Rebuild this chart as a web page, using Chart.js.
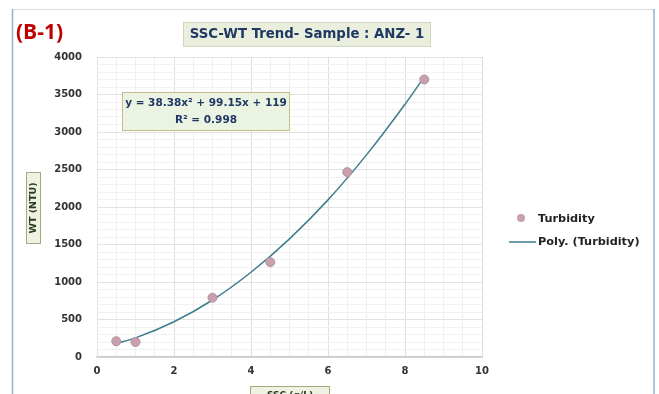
<!DOCTYPE html>
<html lang="en">
<head>
  <meta charset="UTF-8">
  <title>SSC-WT Trend</title>
  <script src="https://cdn.jsdelivr.net/npm/chart.js"></script>
</head>
<body style="margin:0; background:#fff;">
  <div style="width:659px; height:394px; position:relative;">
    <canvas id="trendChart" width="659" height="394"></canvas>
  </div>

  <script>
    // measured points (SSC vs turbidity)
    const sscValues = [0.5, 1, 3, 4.5, 6.5, 8.5];
    const turbidityValues = [210, 200, 790, 1265, 2465, 3700];

    // polynomial trend line
    const trendX = [0.5, 1, 2, 3, 4, 5, 6, 7, 8, 8.5];
    const trendY = [180, 255, 470, 760, 1130, 1575, 2095, 2695, 3370, 3735];

    const xTicks = [0, 2, 4, 6, 8, 10];
    const yTicks = [0, 500, 1000, 1500, 2000, 2500, 3000, 3500, 4000];

    const chartTitle = 'SSC-WT Trend- Sample : ANZ- 1';
    const panelLabel = '(B-1)';
    const equationLines = ['y = 38.38x\u00b2 + 99.15x + 119', 'R\u00b2 = 0.998'];
    const yTitle = 'WT (NTU)';
    const xTitle = 'SSC (g/L)';
    const legendLabels = ['Turbidity', 'Poly. (Turbidity)'];

    const navy = '#1f3864';
    const pointColor = '#c7a1b0';
    const lineColor = '#3d7d8e';
    const wide = '"DejaVu Sans", sans-serif';

    function box(ctx, x, y, w, h, fill, stroke) {
      ctx.fillStyle = fill;
      ctx.fillRect(x, y, w, h);
      ctx.strokeStyle = stroke;
      ctx.lineWidth = 1;
      ctx.strokeRect(x + 0.5, y + 0.5, w - 1, h - 1);
    }

    // frame, titles, boxes and legend
    const decorations = {
      id: 'decorations',
      beforeDraw(chart) {
        const ctx = chart.ctx;
        ctx.save();
        ctx.fillStyle = '#fff';
        ctx.fillRect(0, 0, 659, 394);
        ctx.strokeStyle = '#d6dde2';
        ctx.lineWidth = 1;
        ctx.beginPath();
        ctx.moveTo(12, 9.5); ctx.lineTo(654, 9.5);
        ctx.stroke();
        ctx.strokeStyle = '#8fb4cc';
        ctx.lineWidth = 1.5;
        ctx.beginPath();
        ctx.moveTo(12.5, 9); ctx.lineTo(12.5, 394);
        ctx.moveTo(654, 9); ctx.lineTo(654, 394);
        ctx.stroke();
        ctx.restore();
      },
      afterDraw(chart) {
        const ctx = chart.ctx;
        ctx.save();

        ctx.fillStyle = '#c00000';
        ctx.font = 'bold 21px "Open Sans", sans-serif';
        ctx.textAlign = 'left';
        ctx.textBaseline = 'middle';
        ctx.fillText(panelLabel, 16, 33);

        box(ctx, 183, 22, 248, 25, '#e9eedd', '#cfd5c0');
        ctx.fillStyle = navy;
        ctx.font = 'bold 13.3px ' + wide;
        ctx.textAlign = 'center';
        ctx.fillText(chartTitle, 307, 35);

        box(ctx, 122, 92, 168, 39, '#ebf3e2', '#c8bb8c');
        ctx.fillStyle = navy;
        ctx.font = 'bold 10.5px ' + wide;
        ctx.fillText(equationLines[0], 206, 103);
        ctx.fillText(equationLines[1], 206, 120);

        box(ctx, 26, 172, 15, 72, '#eef2e2', '#a3a97c');
        ctx.save();
        ctx.translate(34, 208);
        ctx.rotate(-Math.PI / 2);
        ctx.fillStyle = '#2a3a20';
        ctx.font = 'bold 9.5px ' + wide;
        ctx.fillText(yTitle, 0, 0);
        ctx.restore();

        box(ctx, 250, 386, 80, 16, '#eef2e2', '#a3a97c');
        ctx.fillStyle = '#2a3a20';
        ctx.font = 'bold 9px ' + wide;
        ctx.fillText(xTitle, 290, 396);

        // legend
        ctx.fillStyle = pointColor;
        ctx.beginPath();
        ctx.arc(521, 218, 4, 0, Math.PI * 2);
        ctx.fill();
        ctx.strokeStyle = lineColor;
        ctx.lineWidth = 1.5;
        ctx.beginPath();
        ctx.moveTo(509, 242); ctx.lineTo(536, 242);
        ctx.stroke();
        ctx.fillStyle = '#222';
        ctx.font = 'bold 11.3px ' + wide;
        ctx.textAlign = 'left';
        ctx.fillText(legendLabels[0], 538, 219);
        ctx.fillText(legendLabels[1], 538, 242);

        ctx.restore();
      }
    };

    const ctx = document.getElementById('trendChart').getContext('2d');
    new Chart(ctx, {
      type: 'scatter',
      data: {
        datasets: [
          {
            label: legendLabels[1],
            type: 'line',
            data: trendX.map((x, i) => ({ x: x, y: trendY[i] })),
            borderColor: lineColor,
            borderWidth: 1.5,
            pointRadius: 0,
            fill: false,
            cubicInterpolationMode: 'monotone',
            order: 2
          },
          {
            label: legendLabels[0],
            data: sscValues.map((x, i) => ({ x: x, y: turbidityValues[i] })),
            backgroundColor: pointColor,
            borderColor: '#b890a0',
            borderWidth: 1,
            pointRadius: 4.5,
            order: 1
          }
        ]
      },
      options: {
        responsive: false,
        animation: false,
        layout: { padding: { left: 0, top: 57, right: 177, bottom: 7 } },
        plugins: {
          legend: { display: false },
          tooltip: { enabled: false }
        },
        scales: {
          x: {
            type: 'linear',
            min: 0,
            max: 10,
            afterFit: s => { s.height = 30; },
            afterBuildTicks: s => {
              const t = [];
              for (let v = 0; v <= 10; v += 0.5) t.push({ value: v });
              s.ticks = t;
            },
            ticks: {
              color: '#333',
              font: { family: wide, weight: 'bold', size: 10 },
              padding: 8,
              autoSkip: false,
              maxRotation: 0,
              callback: v => xTicks.includes(v) ? v : ''
            },
            grid: {
              color: c => xTicks.includes(c.tick.value) ? '#dedede' : '#efefef',
              drawTicks: false
            },
            border: { color: '#c4ccd0', width: 1.5 }
          },
          y: {
            min: 0,
            max: 4000,
            afterFit: s => { s.width = 97; },
            afterBuildTicks: s => {
              const t = [];
              for (let v = 0; v <= 4000; v += 100) t.push({ value: v });
              s.ticks = t;
            },
            ticks: {
              color: '#333',
              font: { family: wide, weight: 'bold', size: 10 },
              padding: 15,
              autoSkip: false,
              callback: v => yTicks.includes(v) ? v : ''
            },
            grid: {
              color: c => yTicks.includes(c.tick.value) ? '#e2e2e2' : '#f1f1f1',
              drawTicks: false
            },
            border: { color: '#e2e2e2' }
          }
        }
      },
      plugins: [decorations]
    });
  </script>
</body>
</html>
